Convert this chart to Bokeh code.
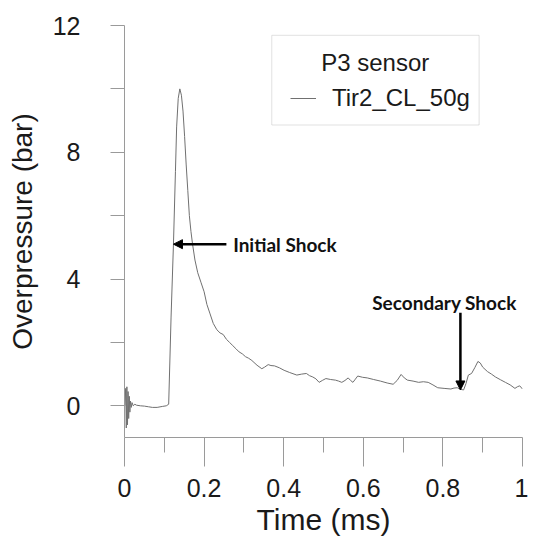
from bokeh.plotting import figure
from bokeh.models import (FixedTicker, Legend, LegendItem, Label, Arrow,
                          NormalHead, BoxAnnotation, Range1d)
from bokeh.embed import file_html
from bokeh.resources import INLINE

# P3 sensor trace, Tir2_CL_50g (time in ms, overpressure in bar)
time_ms = [0.0, 0.001, 0.003, 0.0045, 0.006, 0.0075, 0.009, 0.0105, 0.012,
           0.0135, 0.015, 0.017, 0.019, 0.022, 0.026, 0.03, 0.04, 0.05, 0.06,
           0.07, 0.082, 0.095, 0.105, 0.111, 0.117, 0.123, 0.128, 0.131,
           0.135, 0.139, 0.143, 0.147, 0.151, 0.155, 0.159, 0.163, 0.167,
           0.171, 0.177, 0.184, 0.192, 0.2, 0.207, 0.215, 0.223, 0.232,
           0.24, 0.248, 0.256, 0.264, 0.272, 0.28, 0.288, 0.296, 0.304,
           0.312, 0.32, 0.333, 0.345, 0.352, 0.361, 0.368, 0.377, 0.389,
           0.401, 0.415, 0.433, 0.445, 0.457, 0.465, 0.473, 0.481, 0.489,
           0.497, 0.506, 0.518, 0.53, 0.538, 0.546, 0.554, 0.562, 0.568,
           0.574, 0.58, 0.586, 0.598, 0.61, 0.626, 0.643, 0.66, 0.675,
           0.685, 0.695, 0.703, 0.711, 0.725, 0.739, 0.751, 0.763, 0.775,
           0.787, 0.803, 0.82, 0.828, 0.836, 0.844, 0.852, 0.858, 0.864,
           0.872, 0.88, 0.888, 0.894, 0.9, 0.912, 0.922, 0.932, 0.945,
           0.957, 0.969, 0.981, 0.987, 0.993, 1.0]
pressure_bar = [0.0, 0.0, 0.55, -0.7, 0.6, -0.6, 0.45, -0.4, 0.3, -0.2, 0.15,
                -0.05, 0.1, 0.0, 0.05, 0.02, 0.0, -0.01, -0.03, -0.05, -0.05,
                -0.02, 0.0, 0.05, 2.8, 5.1, 7.4, 8.8, 9.7, 10.0, 9.8, 9.3,
                8.5, 7.6, 6.8, 6.0, 5.5, 5.1, 4.6, 4.2, 3.9, 3.6, 3.2, 2.9,
                2.6, 2.4, 2.3, 2.25, 2.1, 2.0, 1.9, 1.8, 1.7, 1.64, 1.55,
                1.5, 1.43, 1.28, 1.17, 1.22, 1.3, 1.27, 1.26, 1.2, 1.12, 1.05,
                0.97, 1.0, 1.02, 0.95, 0.91, 0.85, 0.74, 0.8, 0.86, 0.83,
                0.81, 0.78, 0.74, 0.8, 0.88, 0.8, 0.74, 0.84, 0.94, 0.9, 0.88,
                0.83, 0.78, 0.72, 0.68, 0.8, 0.99, 0.88, 0.81, 0.78, 0.74,
                0.76, 0.74, 0.66, 0.57, 0.55, 0.53, 0.56, 0.57, 0.52, 0.5,
                0.7, 0.97, 1.02, 1.2, 1.4, 1.35, 1.22, 1.08, 1.0, 0.91, 0.82,
                0.74, 0.66, 0.55, 0.6, 0.63, 0.53]

x_ticks = [0, 0.2, 0.4, 0.6, 0.8, 1]
x_minor = [0.1, 0.3, 0.5, 0.7, 0.9]
y_ticks = [0, 4, 8, 12]
y_minor = [2, 6, 10]

initial_shock = dict(x0=0.256, x1=0.123, y=5.1, label_x=0.273)
secondary_shock = dict(x=0.844, y0=2.94, y1=0.5, label_x=0.804, label_y=3.26)

FONT = "Liberation Sans"
AXIS_GREY = "#9a9a9a"
TEXT = "#1a1a1a"

p = figure(width=528, height=538, output_backend="svg", toolbar_location=None,
           x_range=Range1d(0, 1), y_range=Range1d(-1, 12),
           min_border_left=124, min_border_right=6, min_border_top=25,
           min_border_bottom=98)
p.outline_line_color = None
p.grid.grid_line_color = None

r = p.line(time_ms, pressure_bar, line_color="#707070", line_width=1)

p.xaxis.ticker = FixedTicker(ticks=x_ticks, minor_ticks=x_minor)
p.yaxis.ticker = FixedTicker(ticks=y_ticks, minor_ticks=y_minor)
p.xaxis.major_label_overrides = {0: "0", 1: "1"}

for ax in (p.xaxis[0], p.yaxis[0]):
    ax.axis_line_color = AXIS_GREY
    ax.major_tick_line_color = AXIS_GREY
    ax.minor_tick_line_color = AXIS_GREY
    ax.major_tick_in = 0
    ax.minor_tick_in = 0
    ax.major_label_text_font = FONT
    ax.major_label_text_font_size = "25px"
    ax.major_label_text_color = TEXT
    ax.axis_label_text_font = FONT
    ax.axis_label_text_font_style = "normal"
    ax.axis_label_text_color = TEXT

p.xaxis.axis_label = "Time (ms)"
p.xaxis.axis_label_text_font_size = "30px"
p.xaxis.major_tick_out = 29
p.xaxis.minor_tick_out = 15
p.xaxis.major_label_standoff = 12
p.xaxis.axis_label_standoff = 3

p.yaxis.axis_label = "Overpressure (bar)"
p.yaxis.axis_label_text_font_size = "28px"
p.yaxis.major_tick_out = 14
p.yaxis.minor_tick_out = 14
p.yaxis.major_label_standoff = 30
p.yaxis.axis_label_standoff = 12

# legend box
p.add_layout(BoxAnnotation(left=0.370, right=0.891, bottom=8.86, top=11.69,
                           fill_color=None, line_color=AXIS_GREY,
                           line_width=1))
p.add_layout(Label(x=0.63, y=10.82, text="P3 sensor", text_align="center",
                   text_baseline="middle", text_font=FONT,
                   text_font_size="24px", text_color=TEXT))
legend = Legend(items=[LegendItem(label="Tir2_CL_50g", renderers=[r])],
                location=(166, 325), padding=0, margin=0, glyph_width=26,
                label_standoff=16, border_line_color=None,
                background_fill_alpha=0, label_text_font=FONT,
                label_text_font_size="24px", label_text_color=TEXT)
p.add_layout(legend)

# annotations
p.add_layout(Arrow(end=NormalHead(size=9, fill_color="black",
                                  line_color="black"),
                   x_start=initial_shock["x0"], y_start=initial_shock["y"],
                   x_end=initial_shock["x1"], y_end=initial_shock["y"],
                   line_width=2.5, line_color="black"))
p.add_layout(Label(x=initial_shock["label_x"], y=initial_shock["y"],
                   text="Initial Shock", text_baseline="middle",
                   text_font="Lato", text_font_style="bold",
                   text_font_size="19px", text_color="#111111"))
p.add_layout(Arrow(end=NormalHead(size=9, fill_color="black",
                                  line_color="black"),
                   x_start=secondary_shock["x"], y_start=secondary_shock["y0"],
                   x_end=secondary_shock["x"], y_end=secondary_shock["y1"],
                   line_width=2.5, line_color="black"))
p.add_layout(Label(x=secondary_shock["label_x"], y=secondary_shock["label_y"],
                   text="Secondary Shock", text_align="center",
                   text_baseline="middle", text_font="Lato",
                   text_font_style="bold", text_font_size="19px",
                   text_color="#111111"))

open("out.html", "w").write(file_html(p, INLINE))
